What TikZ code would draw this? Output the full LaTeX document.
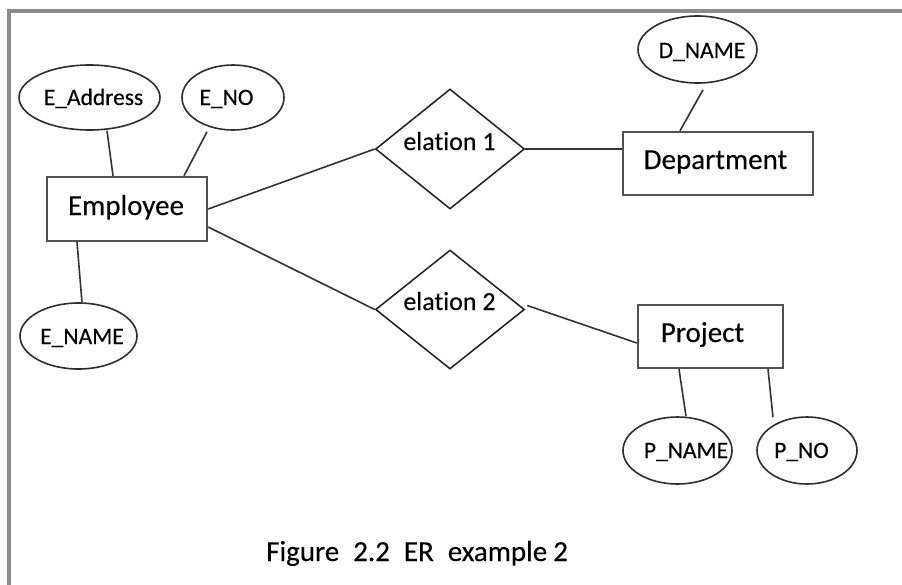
\documentclass[tikz,border=0pt]{standalone}
\usepackage{fontspec}
\setmainfont{Carlito}[Ligatures={NoCommon,NoContextual}, FakeBold=0.25]
\usetikzlibrary{shapes.geometric,calc}
\begin{document}
\begin{tikzpicture}[x=1pt,y=-1pt,
  entity/.style={draw=black!68, line width=2.4pt, rectangle, inner sep=0pt},
  attr/.style={draw=black!82, line width=1.6pt, ellipse, inner sep=0pt},
  rel/.style={draw=black!88, line width=1.5pt, diamond, inner sep=0pt},
  conn/.style={draw=black!80, line width=1.6pt},
  frameline/.style={draw=black!45, line width=4pt},
  enttext/.style={inner sep=0pt, anchor=base, font=\fontsize{29}{32}\selectfont},
  reltext/.style={inner sep=0pt, anchor=base, font=\fontsize{26}{28}\selectfont},
  attrtext/.style={inner sep=0pt, anchor=base, font=\fontsize{23.5}{26}\selectfont},
  captext/.style={inner sep=0pt, anchor=base west, font=\fontsize{29}{32}\selectfont}]
\useasboundingbox (0,0) rectangle (902,584);
\clip (0,0) rectangle (902,584);
\fill[white] (0,0) rectangle (902,584);
% frame
\draw[frameline] (9,610) -- (9,11) -- (920,11);
% entities
\node[entity, minimum width=160pt, minimum height=64pt] (emp) at (127,209) {};
\node[entity, minimum width=190pt, minimum height=63pt] (dept) at (718,163.5) {};
\node[entity, minimum width=145pt, minimum height=63pt] (proj) at (710.5,336.5) {};
% relations
\node[rel, minimum width=149pt, minimum height=120pt] (rel1) at (450,149) {};
\node[rel, minimum width=149pt, minimum height=119pt] (rel2) at (450,309.5) {};
% attributes
\node[attr, minimum width=141pt, minimum height=65pt] (eaddr) at (89.5,97.5) {};
\node[attr, minimum width=102pt, minimum height=65pt] (eno) at (233,97.5) {};
\node[attr, minimum width=117pt, minimum height=66pt] (ename) at (78.5,336) {};
\node[attr, minimum width=119pt, minimum height=67pt] (dname) at (697.5,49.5) {};
\node[attr, minimum width=109pt, minimum height=67pt] (pname) at (677.5,450.5) {};
\node[attr, minimum width=100pt, minimum height=67pt] (pno) at (807,450.5) {};
% texts
\node[enttext] (empT) at (126,215) {Employee};
\node[enttext] (deptT) at (715.5,169) {Department};
\node[enttext] (projT) at (702.5,342) {Project};
\node[reltext] (rel1T) at (449.5,150) {elation 1};
\node[reltext] (rel2T) at (449.5,310) {elation 2};
\node[attrtext] (eaddrT) at (93.5,105) {E\_Address};
\node[attrtext] (enoT) at (226.5,105) {E\_NO};
\node[attrtext] (enameT) at (82,344) {E\_NAME};
\node[attrtext] (dnameT) at (702,58) {D\_NAME};
\node[attrtext] (pnameT) at (686,458) {P\_NAME};
\node[attrtext] (pnoT) at (801.5,458) {P\_NO};
\node[captext] (cap) at (266,561) {Figure\hspace{14pt}2.2\hspace{14pt}ER\hspace{14pt}example\hspace{6pt}2};
% connectors
\draw[conn] (emp.east) -- (rel1.west);
\draw[conn] ($(emp.east)+(0,18)$) -- (rel2.west);
\draw[conn] (rel1.east) -- (rel1.east -| dept.west);
\draw[conn] ($(rel2.east)+(2,-4)$) -- ($(proj.west)+(0,6.5)$);
\draw[conn] ($(eaddr.south)+(17.5,0)$) -- ($(emp.north)+(-14,0)$);
\draw[conn] ($(eno.south)+(-26,1)$) -- ($(emp.north)+(57,0)$);
\draw[conn] ($(emp.south)+(-50,0)$) -- ($(ename.north)+(3.5,0)$);
\draw[conn] ($(dname.south)+(5.5,6)$) -- ($(dept.north)+(-38,0)$);
\draw[conn] ($(proj.south)+(-31.5,0)$) -- ($(pname.north)+(8.5,0)$);
\draw[conn] ($(proj.south)+(57.5,0)$) -- ($(pno.north)+(-34,1)$);
\end{tikzpicture}
\end{document}
